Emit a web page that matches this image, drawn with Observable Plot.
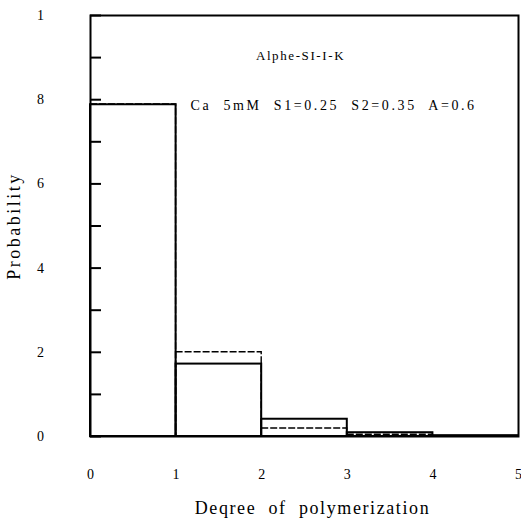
<!DOCTYPE html>
<html>
<head>
<meta charset="utf-8">
<script src="https://cdn.jsdelivr.net/npm/d3@7"></script>
<script src="https://cdn.jsdelivr.net/npm/@observablehq/plot@0.6"></script>
<style>
  body { margin: 0; background: #fff; }
  #chart svg { font-family: "Liberation Serif", "DejaVu Serif", serif; }
</style>
</head>
<body>
<div id="chart"></div>
<script>
// Degree of polymerization bins (each bin spans [d, d + 1])
const degree = [0, 1, 2, 3, 4];
// Probability per bin, solid outline series
const probSolid = [0.788, 0.172, 0.041, 0.009, 0.002];
// Probability per bin, dashed outline series
const probDashed = [0.789, 0.200, 0.019, 0.004, 0.001];

// Axis ticks and their printed labels
const yTicks = [0, 0.2, 0.4, 0.6, 0.8, 1];
const yTickLabels = ["0", "2", "4", "6", "8", "1"];
const yMinorTicks = [0.1, 0.3, 0.5, 0.7, 0.9];
const xTicks = [0, 1, 2, 3, 4, 5];
const xTickLabels = ["0", "1", "2", "3", "4", "5"];

// Texts
const titleText = "Alphe-SI-I-K";
const conditionText = "Ca  5mM  S1=0.25  S2=0.35  A=0.6";
const xLabel = "Deqree  of  polymerization";
const yLabel = "Probability";

const solidBars = degree.map((d, i) => ({x1: d, x2: d + 1, p: probSolid[i]}));
const dashedBars = degree.map((d, i) => ({x1: d, x2: d + 1, p: probDashed[i]}));

const chart = Plot.plot({
  width: 521,
  height: 529,
  marginLeft: 90,
  marginRight: 3,
  marginTop: 15,
  marginBottom: 93,
  style: {fontFamily: "Liberation Serif, DejaVu Serif, serif", fontSize: "14px", background: "#fff", color: "#000"},
  x: {domain: [0, 5]},
  y: {domain: [0, 1]},
  marks: [
    // dashed series outlines
    Plot.rectY(dashedBars, {x1: "x1", x2: "x2", y: "p", fill: "none", stroke: "#000", strokeWidth: 1.4, strokeDasharray: "7,2"}),
    // solid series outlines
    Plot.rectY(solidBars, {x1: "x1", x2: "x2", y: "p", fill: "none", stroke: "#000", strokeWidth: 2}),
    // inward tick marks on the left edge
    Plot.axisY({ticks: yTicks.concat(yMinorTicks), tickSize: -11, text: null, label: null, strokeWidth: 2}),
    // y tick labels
    Plot.axisY({ticks: yTicks, tickSize: 0, tickPadding: 50, textAnchor: "middle", label: null, fontSize: 14,
      tickFormat: d => yTickLabels[yTicks.indexOf(d)]}),
    // x tick labels
    Plot.axisX({ticks: xTicks, tickSize: 0, tickPadding: 33, label: null, fontSize: 14,
      tickFormat: d => xTickLabels[xTicks.indexOf(d)]}),
    Plot.frame({stroke: "#000", strokeWidth: 2}),
    // annotations inside the plot
    Plot.text([titleText], {frameAnchor: "top-left", dx: 210, dy: 35, textAnchor: "middle", fontSize: 13}),
    Plot.text([conditionText], {frameAnchor: "top-left", dx: 100, dy: 85, textAnchor: "start", fontSize: 14}),
    // axis titles
    Plot.text([yLabel], {frameAnchor: "left", dx: -76, rotate: -90, textAnchor: "middle", fontSize: 18}),
    Plot.text([xLabel], {frameAnchor: "bottom", dx: 8, dy: 77, textAnchor: "middle", fontSize: 18})
  ]
});

// Typewriter-like spacing for the figure's text
const svg = d3.select(chart);
svg.selectAll("text").each(function () {
  const t = this.textContent;
  const el = d3.select(this);
  if (t === yLabel) el.attr("letter-spacing", "2.5px");
  else if (t === xLabel) el.attr("letter-spacing", "1.6px");
  else if (t === titleText) el.attr("letter-spacing", "1.6px");
  else if (t === conditionText) el.attr("letter-spacing", "2.6px");
});

document.getElementById("chart").appendChild(chart);
</script>
</body>
</html>
